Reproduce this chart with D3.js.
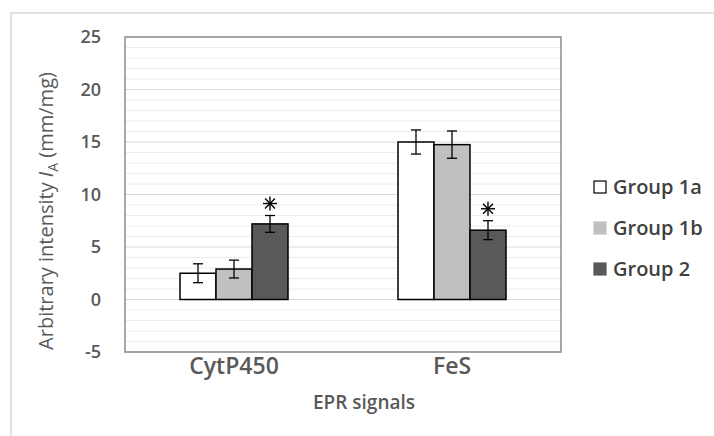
<!DOCTYPE html>
<html>
<head>
<meta charset="utf-8">
<script src="https://cdn.jsdelivr.net/npm/d3@7"></script>
<style>
  body { margin: 0; background: #fff; }
  text { font-family: "Open Sans", sans-serif; }
</style>
</head>
<body>
<script>
var categories = ["CytP450", "FeS"];
var groups = ["Group 1a", "Group 1b", "Group 2"];
var group1a = [2.5, 15.0];
var group1b = [2.9, 14.75];
var group2 = [7.2, 6.6];
var err1a = [0.9, 1.15];
var err1b = [0.85, 1.3];
var err2 = [0.8, 0.9];
var starred = [false, false, true];   // asterisk over group 2
var yTicks = [-5, 0, 5, 10, 15, 20, 25];

var colors = ["#ffffff", "#c0c0c0", "#595959"];
var values = [group1a, group1b, group2];
var errors = [err1a, err1b, err2];

var W = 714, H = 436;
var plot = {left: 125, right: 561, top: 37, bottom: 352};

var svg = d3.select("body").append("svg")
    .attr("width", W)
    .attr("height", H);

// outer chart frame (cropped on the right and bottom)
svg.append("rect")
    .attr("x", 11).attr("y", 13)
    .attr("width", W).attr("height", H)
    .attr("fill", "#fff")
    .attr("stroke", "#d9d9d9")
    .attr("stroke-width", 1.5);

var x0 = d3.scaleBand().domain(categories).range([plot.left, plot.right]);
var x1 = d3.scaleBand().domain(groups).range([55, 163]);
var y = d3.scaleLinear().domain([-5, 25]).range([plot.bottom, plot.top]);

// minor gridlines
var minor = d3.range(-4, 25).filter(function(v) { return v % 5 !== 0; });
svg.append("g").selectAll("line").data(minor).enter().append("line")
    .attr("x1", plot.left).attr("x2", plot.right)
    .attr("y1", function(d) { return y(d); })
    .attr("y2", function(d) { return y(d); })
    .attr("stroke", "#ececec").attr("stroke-width", 1);

// major gridlines
svg.append("g").selectAll("line").data(yTicks).enter().append("line")
    .attr("x1", plot.left).attr("x2", plot.right)
    .attr("y1", function(d) { return y(d); })
    .attr("y2", function(d) { return y(d); })
    .attr("stroke", "#d9d9d9").attr("stroke-width", 1.2);

// plot border
svg.append("rect")
    .attr("x", plot.left).attr("y", plot.top)
    .attr("width", plot.right - plot.left)
    .attr("height", plot.bottom - plot.top)
    .attr("fill", "none")
    .attr("stroke", "#8c8c8c")
    .attr("stroke-width", 1.5);

// y axis labels
var yAxis = svg.append("g")
    .attr("transform", "translate(" + (plot.left - 24) + ",0)")
    .call(d3.axisLeft(y).tickValues(yTicks).tickSize(0).tickPadding(0)
      .tickFormat(function(d) { return String(d); }));
yAxis.select(".domain").remove();
yAxis.selectAll("text")
    .attr("fill", "#595959")
    .style("font-size", "18px")
    .style("font-weight", 600)
    .style("font-family", "Open Sans, sans-serif");

// x axis labels
var xAxis = svg.append("g")
    .attr("transform", "translate(0," + plot.bottom + ")")
    .call(d3.axisBottom(x0).tickSize(0).tickPadding(6));
xAxis.select(".domain").remove();
xAxis.selectAll("text")
    .attr("fill", "#595959")
    .style("font-size", "23px")
    .style("font-weight", 600)
    .style("font-family", "Open Sans, sans-serif");

// bars
var barData = [];
groups.forEach(function(g, gi) {
  categories.forEach(function(c, ci) {
    barData.push({cat: c, group: g, gi: gi, v: values[gi][ci], e: errors[gi][ci]});
  });
});

var bars = svg.append("g");
bars.selectAll("rect").data(barData).enter().append("rect")
    .attr("x", function(d) { return x0(d.cat) + x1(d.group); })
    .attr("y", function(d) { return y(d.v); })
    .attr("width", x1.bandwidth())
    .attr("height", function(d) { return y(0) - y(d.v); })
    .attr("fill", function(d) { return colors[d.gi]; })
    .attr("stroke", "#000")
    .attr("stroke-width", 1.5);

// error bars
var eb = svg.append("g").attr("stroke", "#000").attr("stroke-width", 1.3);
barData.forEach(function(d) {
  var cx = x0(d.cat) + x1(d.group) + x1.bandwidth() / 2;
  eb.append("line").attr("x1", cx).attr("x2", cx)
    .attr("y1", y(d.v + d.e)).attr("y2", y(d.v - d.e));
  [d.v + d.e, d.v - d.e].forEach(function(v) {
    eb.append("line").attr("x1", cx - 5).attr("x2", cx + 5)
      .attr("y1", y(v)).attr("y2", y(v));
  });
  if (starred[d.gi]) {
    var cy = y(d.v + d.e) - 12, r = 7;
    [0, 45, 90, 135].forEach(function(a) {
      var rad = a * Math.PI / 180;
      eb.append("line")
        .attr("x1", cx - r * Math.cos(rad)).attr("y1", cy - r * Math.sin(rad))
        .attr("x2", cx + r * Math.cos(rad)).attr("y2", cy + r * Math.sin(rad))
        .attr("stroke-width", 1.4);
    });
  }
});

// axis titles
svg.append("text")
    .attr("x", 364).attr("y", 409)
    .attr("text-anchor", "middle")
    .attr("fill", "#595959")
    .style("font-size", "19px")
    .style("font-weight", 600)
    .text("EPR signals");

var yt = svg.append("text")
    .attr("transform", "translate(53,211) rotate(-90)")
    .attr("text-anchor", "middle")
    .attr("fill", "#595959")
    .style("font-size", "20px");
yt.append("tspan").text("Arbitrary intensity ");
yt.append("tspan").style("font-style", "italic").text("I");
yt.append("tspan").attr("dy", 5).style("font-size", "14px").text("A");
yt.append("tspan").attr("dy", -5).text(" (mm/mg)");

// legend
var legend = svg.append("g");
var legendY = [187, 228, 269];
groups.forEach(function(g, i) {
  legend.append("rect")
    .attr("x", 594).attr("y", legendY[i] - 6)
    .attr("width", 12).attr("height", 12)
    .attr("fill", colors[i])
    .attr("stroke", i === 0 ? "#000" : colors[i])
    .attr("stroke-width", 1.2);
  legend.append("text")
    .attr("x", 613).attr("y", legendY[i])
    .attr("dy", "0.35em")
    .attr("fill", "#404040")
    .style("font-size", "20px")
    .style("font-weight", 600)
    .text(g);
});
</script>
</body>
</html>
